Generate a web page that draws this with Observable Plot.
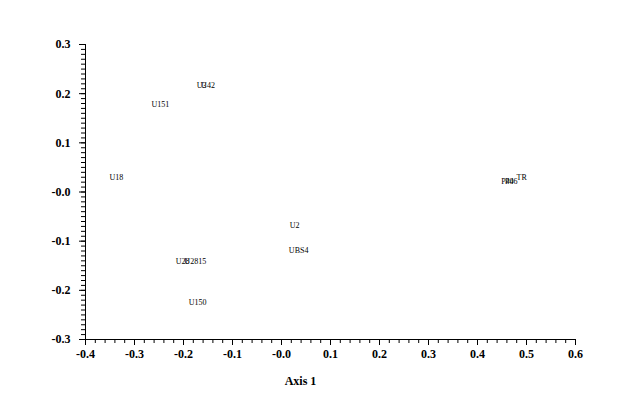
<!DOCTYPE html>
<html><head><meta charset="utf-8">
<script src="https://cdn.jsdelivr.net/npm/d3@7"></script>
<script src="https://cdn.jsdelivr.net/npm/@observablehq/plot@0.6"></script>
<style>
html,body{margin:0;padding:0;background:#fff;}
#wrap{position:relative;width:624px;height:413px;}
#bar{position:absolute;left:25px;top:163px;width:0;height:55px;border-left:1px solid #000;}
</style>
</head><body>
<div id="wrap"><div id="bar"></div></div>
<script>
const labels = ["U151","U3","U42","U18","U2","UBS4","U28","U2815","U150","P40","P46","TR"];
const axis1 = [-0.247,-0.163,-0.150,-0.337,0.027,0.035,-0.202,-0.176,-0.171,0.461,0.469,0.490];
const axis2 = [0.178,0.217,0.217,0.030,-0.068,-0.119,-0.141,-0.141,-0.225,0.021,0.021,0.030];
const xTicks = [-0.4,-0.3,-0.2,-0.1,0,0.1,0.2,0.3,0.4,0.5,0.6];
const xTickLabels = ["-0.4","-0.3","-0.2","-0.1","-0.0","0.1","0.2","0.3","0.4","0.5","0.6"];
const yTicks = [0.3,0.2,0.1,0,-0.1,-0.2,-0.3];
const yTickLabels = ["0.3","0.2","0.1","-0.0","-0.1","-0.2","-0.3"];

const data = labels.map((l,i)=>({label:l,x:axis1[i],y:axis2[i]}));
const xMinor = d3.range(0,51).map(i=>-0.4+i*0.02);
const yMinor = d3.range(0,61).map(i=>-0.3+i*0.01);
const font = "Liberation Serif, Times New Roman, serif";

const chart = Plot.plot({
  width:624, height:413,
  marginLeft:85, marginRight:49, marginTop:44, marginBottom:74,
  style:{fontFamily:font, background:"#fff", color:"#000"},
  x:{domain:[-0.4,0.6]},
  y:{domain:[-0.3,0.3]},
  marks:[
    Plot.axisX({ticks:xMinor, tickSize:4, text:null, label:null, stroke:"#000"}),
    Plot.axisY({ticks:yMinor, tickSize:4, text:null, label:null, stroke:"#000"}),
    Plot.axisX({ticks:xTicks, tickSize:6, tickPadding:4, tickFormat:(d)=>xTickLabels[xTicks.findIndex(t=>Math.abs(t-d)<1e-9)], fontSize:12, fontWeight:"bold", label:null, stroke:"#000", fill:"#000"}),
    Plot.axisY({ticks:yTicks, tickSize:6, tickPadding:9, tickFormat:(d)=>yTickLabels[yTicks.findIndex(t=>Math.abs(t-d)<1e-9)], fontSize:12, fontWeight:"bold", label:null, stroke:"#000", fill:"#000"}),
    Plot.ruleY([-0.3], {stroke:"#000"}),
    Plot.ruleX([-0.4], {stroke:"#000"}),
    Plot.text(data,{x:"x", y:"y", text:"label", fontSize:8, fontFamily:font, fill:"#000"}),
    Plot.text(["Axis 1"],{frameAnchor:"bottom", dx:-30, dy:45, fontSize:12, fontWeight:"bold", fontFamily:font, fill:"#000"})
  ]
});
document.getElementById("wrap").appendChild(chart);
chart.style.position="absolute"; chart.style.left="0"; chart.style.top="0";
</script>
</body></html>
